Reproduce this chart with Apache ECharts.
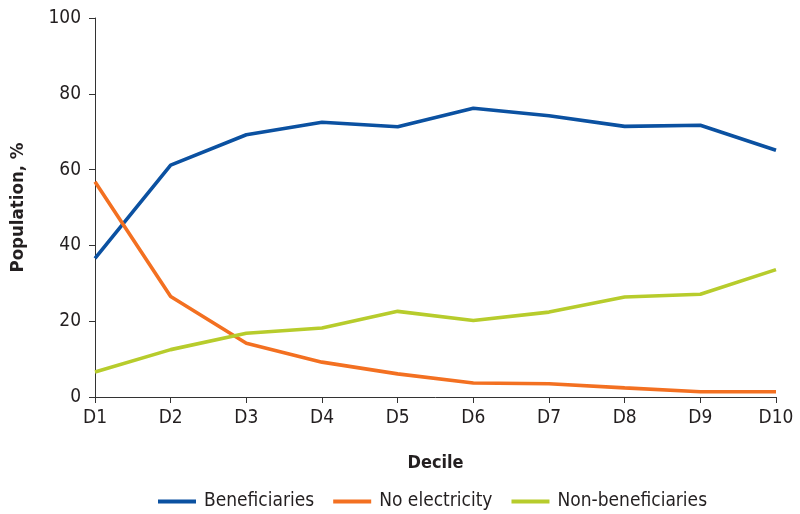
<!DOCTYPE html>
<html><head><meta charset="utf-8">
<script src="https://cdn.jsdelivr.net/npm/echarts@6/dist/echarts.min.js"></script>
<style>html,body{margin:0;padding:0;background:#fff}#c{width:800px;height:514px}</style>
</head><body><div id="c"></div>
<script>
const categories = ['D1','D2','D3','D4','D5','D6','D7','D8','D9','D10'];
const beneficiaries = [36.6, 61.2, 69.2, 72.5, 71.3, 76.2, 74.2, 71.4, 71.7, 65.1];
const noElectricity = [56.8, 26.5, 14.2, 9.2, 6.1, 3.7, 3.5, 2.4, 1.4, 1.4];
const nonBeneficiaries = [6.6, 12.5, 16.8, 18.2, 22.6, 20.2, 22.4, 26.4, 27.1, 33.6];
const yTicks = [0, 20, 40, 60, 80, 100];

const FONT = '"DejaVu Sans Condensed","Liberation Sans",sans-serif';
const chart = echarts.init(document.getElementById('c'));
const mk = (name, data, color) => ({
  name, type: 'line', data, symbol: 'none', smooth: false,
  lineStyle: { color, width: 3.6 }, itemStyle: { color }
});
chart.setOption({
  animation: false,
  textStyle: { fontFamily: FONT },
  grid: { left: 95, right: 24, top: 18, bottom: 117, containLabel: false },
  xAxis: {
    type: 'category', data: categories, boundaryGap: false,
    axisLine: { lineStyle: { color: '#333', width: 1 } },
    axisTick: { show: true, length: 6, alignWithLabel: true, lineStyle: { color: '#333' } },
    axisLabel: { color: '#231f20', fontSize: 19, fontFamily: FONT, margin: 12 },
    name: 'Decile', nameLocation: 'middle', nameGap: 57,
    nameTextStyle: { color: '#231f20', fontSize: 18, fontWeight: 'bold', fontFamily: FONT }
  },
  yAxis: {
    type: 'value', min: yTicks[0], max: yTicks[yTicks.length - 1], interval: 20,
    axisLine: { show: true, lineStyle: { color: '#333', width: 1 } },
    axisTick: { show: true, length: 6, lineStyle: { color: '#333' } },
    splitLine: { show: false },
    axisLabel: { color: '#231f20', fontSize: 19, fontFamily: FONT, margin: 14 },
    name: 'Population, %', nameLocation: 'middle', nameGap: 67,
    nameTextStyle: { color: '#231f20', fontSize: 18.5, fontWeight: 'bold', fontFamily: FONT }
  },
  legend: {
    top: 492, left: 153, padding: [0, 5], itemWidth: 38, itemHeight: 4, itemGap: 19,
    icon: 'rect',
    textStyle: { color: '#231f20', fontSize: 19, fontFamily: FONT, padding: [0, 0, 0, 3] },
    data: ['Beneficiaries', 'No electricity', 'Non-beneficiaries']
  },
  series: [
    mk('Beneficiaries', beneficiaries, '#0b51a1'),
    mk('No electricity', noElectricity, '#f37021'),
    mk('Non-beneficiaries', nonBeneficiaries, '#b7cc2c')
  ]
});
</script></body></html>
